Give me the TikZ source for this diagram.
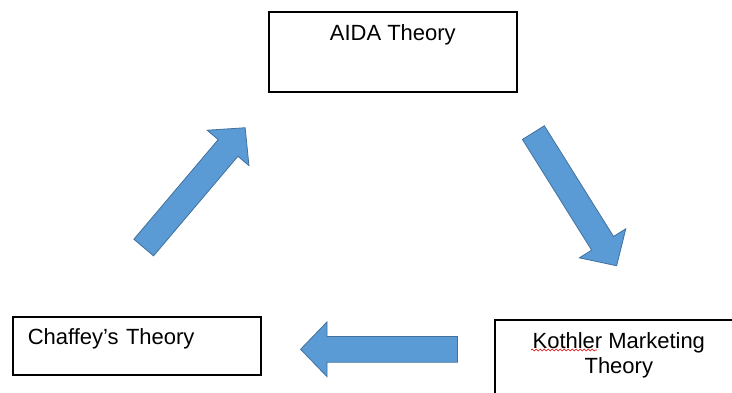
\documentclass[tikz,border=0pt]{standalone}
\usepackage{fontspec}
\setmainfont{Liberation Sans}
\usetikzlibrary{calc}
\usetikzlibrary{shapes.arrows}
\usetikzlibrary{decorations.pathmorphing}
\definecolor{arrowblue}{HTML}{5B9BD5}
\definecolor{arrowedge}{HTML}{41719C}

\begin{document}
\begin{tikzpicture}[x=1pt,y=-1pt]

\def\boxw{248pt}
\def\arrlen{157pt}
\def\shaft{12.5pt}
\def\headext{14.5pt}

\tikzset{
theorybox/.style = {draw=black, line width=1.6pt, minimum width=\boxw, inner ysep=0pt,
	font=\fontsize{22pt}{25pt}\selectfont, anchor=north west},
cyclearrow/.style = {single arrow, fill=arrowblue, draw=arrowedge, line width=0.8pt,
	minimum height=\arrlen, inner sep=\shaft, single arrow head extend=\headext,
	single arrow tip angle=92},
spellmark/.style = {draw=red!85!black, line width=0.6pt, decorate,
	decoration={snake, amplitude=0.9pt, segment length=4pt}}
}

\useasboundingbox (0,0) rectangle (732,392);
\clip (0,0) rectangle (732,392);

%\draw [help lines] grid (732,392);

\node[theorybox, text height=29pt, text depth=51pt] (aida) at (268,11) {AIDA Theory};
\node[theorybox, text height=54pt, text depth=26pt, align=center] (kothler) at (494,319) {Kothler Marketing\\Theory};
\node[theorybox, text height=28pt, text depth=30pt, inner xsep=15pt, text width=218pt, align=left] (chaffey) at (12,316) {Chaffey’s Theory};

\draw[spellmark] ($(kothler.north west)+(37,31)$) -- ++(66,0);

\node[cyclearrow, rotate=-58] (toKothler) at ($(aida.east)!0.5!(kothler.north)+(3.5,8.5)$) {};
\node[cyclearrow, rotate=180] (toChaffey) at ($(chaffey.east)!0.5!(kothler.west)+(7.5,-3.5)$) {};
\node[cyclearrow, rotate=49.75] (toAida) at ($(chaffey.north)!0.5!(aida.west)+(-12,8.5)$) {};

\end{tikzpicture}
\end{document}
